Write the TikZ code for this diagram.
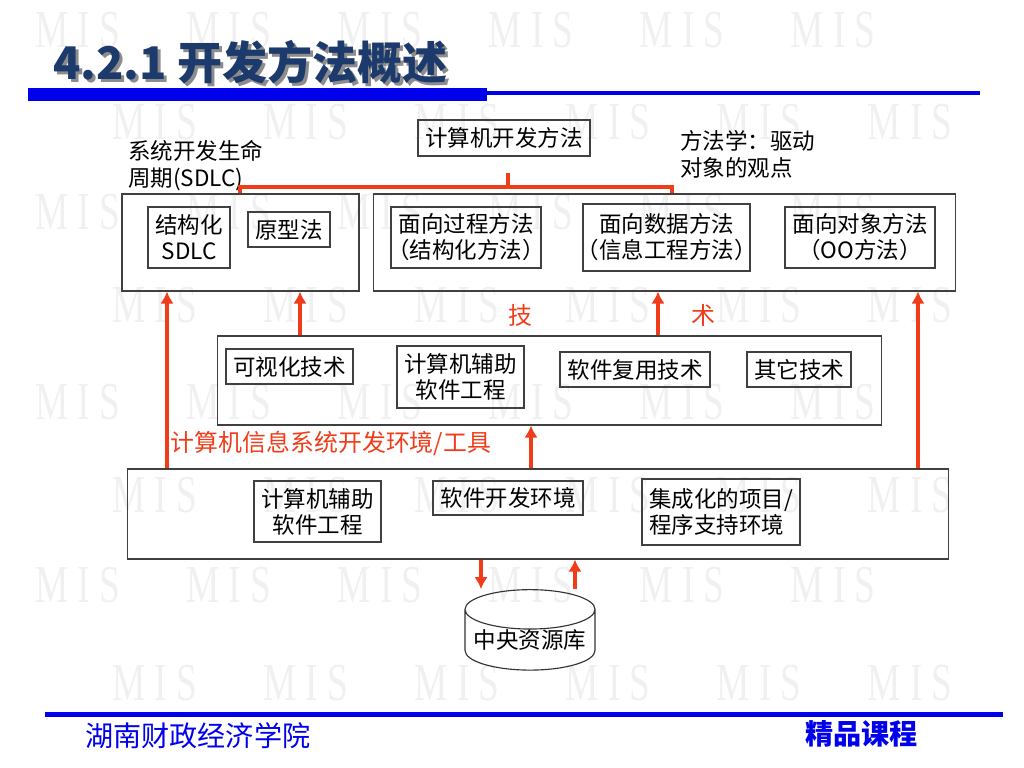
\documentclass[tikz,border=0pt]{standalone}
\usepackage{fontspec}
\setmainfont{Noto Sans CJK SC}
\newfontfamily\wmfont[FakeStretch=0.7]{Liberation Serif}
\usetikzlibrary{shapes.geometric,arrows.meta}

\definecolor{linered}{RGB}{240,60,25}
\definecolor{barblue}{RGB}{0,0,235}
\definecolor{titleblue}{RGB}{28,58,108}
\newcommand\paren[1]{{\addfontfeature{RawFeature=+halt}（#1）}}

\begin{document}
\begin{tikzpicture}[x=0.025cm,y=-0.025cm,
  box/.style={draw=black!75,line width=0.8pt,inner sep=0pt,align=center,font=\fontsize{16}{18.5}\selectfont},
  panel/.style={draw=black!75,line width=0.8pt,inner sep=0pt},
  note/.style={inner sep=0pt,align=left,font=\fontsize{16}{19.5}\selectfont},
  redtext/.style={text=linered,inner sep=0pt,font=\fontsize{17}{20}\selectfont},
  arr/.style={draw=linered,line width=2.8pt,-{Latex[length=8.5pt,width=9.5pt]}},
  bracket/.style={draw=linered,line width=2.8pt},
  wm/.style={text=black!6,inner sep=0pt,font=\wmfont\fontsize{38}{38}\selectfont}]

\useasboundingbox (0,0) rectangle (1024,768);

% watermark
\foreach \y in {30,212,402,585}
  \foreach \x in {78,229,380,531,682,833}
    \node (wm-\x-\y) [wm] at (\x,\y) {M I S};
\foreach \y in {122,305,495,683}
  \foreach \x in {155,306,457,608,759,910}
    \node (wm-\x-\y) [wm] at (\x,\y) {M I S};

% title
\node (titleshadow) [anchor=west,inner sep=0pt,text=black!45,font=\fontsize{32}{32}\selectfont\bfseries] at (56,65) {4.2.1 开发方法概述};
\node (title) [anchor=west,inner sep=0pt,text=titleblue,font=\fontsize{32}{32}\selectfont\bfseries] at (53,62) {4.2.1 开发方法概述};
\draw [barblue,line width=0.325cm] (28,94.5) -- (487,94.5);
\draw [barblue,line width=0.1cm] (487,93.5) -- (980,93.5);

% top level
\node (top) [box,minimum width=4.3cm,minimum height=0.9cm] at (504,138) {计算机开发方法};
\node (sdlcnote) [note,anchor=north west] at (128,140) {系统开发生命\\周期(SDLC)};
\node (methnote) [note,anchor=north west] at (680,130) {方法学：驱动\\对象的观点};

\node (leftbox) [panel,minimum width=5.925cm,minimum height=2.425cm] at (240.5,242.5) {};
\node (rightbox) [panel,minimum width=14.525cm,minimum height=2.425cm] at (664.5,242.5) {};
\node (struct) [box,minimum width=2.05cm,minimum height=1.525cm] at (189,237.5) {结构化\\SDLC};
\node (proto) [box,minimum width=2.05cm,minimum height=0.875cm] at (289,229.5) {原型法};
\node (proc) [box,minimum width=3.75cm,minimum height=1.525cm] at (466,237.5) {面向过程方法\\\paren{结构化方法}};
\node (data) [box,minimum width=4.175cm,minimum height=1.675cm] at (666.5,237.5) {面向数据方法\\\paren{信息工程方法}};
\node (obj) [box,minimum width=3.75cm,minimum height=1.525cm] at (860,237.5) {面向对象方法\\\paren{OO方法}};

\coordinate (hub) at (508,187);
\coordinate (xl) at (240,0);
\coordinate (xr) at (672,0);
\draw [bracket] (hub) -- ++(0,-14);
\draw [bracket] (leftbox.north -| xl) |- (hub) -| (rightbox.north -| xr);

% technique
\node (ji) [redtext] at (520,315) {技};
\node (shu) [redtext] at (703,315) {术};
\node (midbox) [panel,minimum width=16.575cm,minimum height=2.225cm] at (549.5,380.5) {};
\node (vis) [box,minimum width=3.175cm,minimum height=0.875cm] at (289.5,366.5) {可视化技术};
\node (case1) [box,minimum width=3.175cm,minimum height=1.55cm] at (460.5,377) {计算机辅助\\软件工程};
\node (reuse) [box,minimum width=3.75cm,minimum height=0.875cm] at (635,369.5) {软件复用技术};
\node (other) [box,minimum width=2.6cm,minimum height=0.875cm] at (799,369.5) {其它技术};

% environment
\node (envlabel) [redtext] at (331,443) {计算机信息系统开发环境/工具};
\node (botbox) [panel,minimum width=20.5cm,minimum height=2.25cm] at (538,514) {};
\node (case2) [box,minimum width=3.175cm,minimum height=1.525cm] at (317.5,511.5) {计算机辅助\\软件工程};
\node (sde) [box,minimum width=3.75cm,minimum height=0.85cm] at (508,498) {软件开发环境};
\node (ipse) [box,align=left,minimum width=3.95cm,minimum height=1.65cm] at (721,512) {集成化的项目/\\程序支持环境};
\node (repo) [draw=black!80,line width=0.8pt,cylinder,shape border rotate=90,aspect=0.35,
  minimum width=3.25cm,minimum height=1.75cm,inner sep=0pt,font=\fontsize{16}{18.5}\selectfont] at (530,640) {中央资源库};

\foreach \n/\x in {a/167,b/300,c/531,d/658,e/918,f/481,g/575}
  \coordinate (x\n) at (\x,0);
\draw [arr] (botbox.north -| xa) -- (leftbox.south -| xa);
\draw [arr] (midbox.north -| xb) -- (leftbox.south -| xb);
\draw [arr] (midbox.north -| xd) -- (rightbox.south -| xd);
\draw [arr] (botbox.north -| xc) -- (midbox.south -| xc);
\draw [arr] (botbox.north -| xe) -- (rightbox.south -| xe);
\draw [arr] (botbox.south -| xf) -- (repo.north -| xf);
\draw [arr] (repo.north -| xg) -- (botbox.south -| xg);

% footer
\draw [barblue,line width=0.11cm] (45,714.5) -- (1003,714.5);
\node (school) [anchor=west,inner sep=0pt,text=barblue,font=\fontsize{20}{20}\selectfont] at (85,736) {湖南财政经济学院};
\node (course) [anchor=east,inner sep=0pt,text=barblue,font=\fontsize{20}{20}\selectfont\bfseries] at (918,734) {精品课程};

\end{tikzpicture}
\end{document}
